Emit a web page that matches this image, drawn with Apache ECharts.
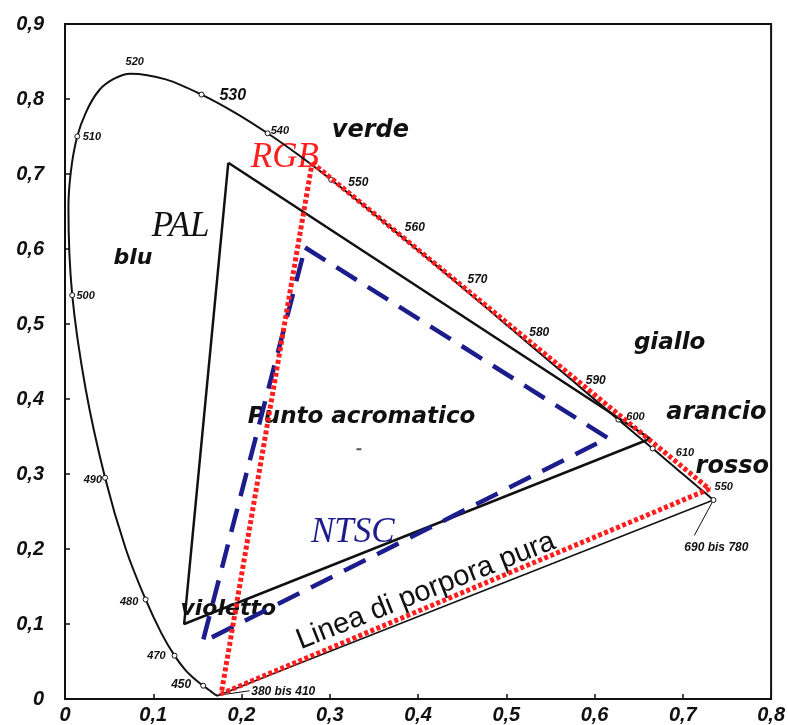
<!DOCTYPE html>
<html>
<head>
<meta charset="utf-8">
<script src="https://cdn.jsdelivr.net/npm/echarts@6/dist/echarts.min.js"></script>
<style>
  html, body { margin: 0; padding: 0; background: #fff; }
  #chart { width: 788px; height: 725px; }
</style>
</head>
<body>
<div id="chart"></div>
<script>
// CIE 1931 spectral locus (nm, x, y)
const locusNm = [380, 385, 390, 395, 400, 405, 410, 415, 420, 425, 430, 435, 440, 445, 450, 455, 460, 465, 470, 475,
  480, 485, 490, 495, 500, 505, 510, 515, 520, 525, 530, 535, 540, 545, 550, 555, 560, 565, 570, 575,
  580, 585, 590, 595, 600, 605, 610, 615, 620, 625, 630, 635, 640, 645, 650, 655, 660, 665, 670, 680, 690, 700];
const locusX = [0.1741, 0.1740, 0.1738, 0.1736, 0.1733, 0.1730, 0.1726, 0.1721, 0.1714, 0.1703, 0.1689, 0.1669, 0.1644, 0.1611, 0.1566, 0.1510, 0.1440, 0.1355, 0.1241, 0.1096,
  0.0913, 0.0687, 0.0454, 0.0235, 0.0082, 0.0039, 0.0139, 0.0389, 0.0743, 0.1142, 0.1547, 0.1929, 0.2296, 0.2658, 0.3016, 0.3373, 0.3731, 0.4087, 0.4441, 0.4788,
  0.5125, 0.5448, 0.5752, 0.6029, 0.6270, 0.6482, 0.6658, 0.6801, 0.6915, 0.7006, 0.7079, 0.7140, 0.7190, 0.7230, 0.7260, 0.7283, 0.7300, 0.7311, 0.7320, 0.7334, 0.7344, 0.7347];
const locusY = [0.0050, 0.0050, 0.0049, 0.0049, 0.0048, 0.0048, 0.0048, 0.0048, 0.0051, 0.0058, 0.0069, 0.0086, 0.0109, 0.0138, 0.0177, 0.0227, 0.0297, 0.0399, 0.0578, 0.0868,
  0.1327, 0.2007, 0.2950, 0.4127, 0.5384, 0.6548, 0.7502, 0.8120, 0.8338, 0.8262, 0.8059, 0.7816, 0.7543, 0.7243, 0.6923, 0.6589, 0.6245, 0.5896, 0.5547, 0.5202,
  0.4866, 0.4544, 0.4242, 0.3965, 0.3725, 0.3514, 0.3340, 0.3197, 0.3083, 0.2993, 0.2920, 0.2859, 0.2809, 0.2770, 0.2740, 0.2717, 0.2700, 0.2689, 0.2680, 0.2666, 0.2656, 0.2653];

// wavelengths marked with a small ring on the locus
const markedNm = [450, 470, 480, 490, 500, 510, 530, 540, 550, 600, 610, 700];

// colour gamut triangles (primary chromaticities)
const palX = [0.185, 0.663, 0.135];
const palY = [0.715, 0.347, 0.100];
const ntscX = [0.272, 0.615, 0.156];
const ntscY = [0.602, 0.348, 0.076];
const rgbX = [0.280, 0.730, 0.177];
const rgbY = [0.715, 0.280, 0.007];

// achromatic point
const whiteX = 0.333;
const whiteY = 0.333;

// axis ticks
const xTicks = [0, 0.1, 0.2, 0.3, 0.4, 0.5, 0.6, 0.7, 0.8];
const yTicks = [0, 0.1, 0.2, 0.3, 0.4, 0.5, 0.6, 0.7, 0.8, 0.9];

// wavelength annotations: text, x, y, alignment
const nmText  = ['520', '530', '510', '540', '550', '560', '570', '580', '590', '600', '610', '550', '690 bis 780', '500', '490', '480', '470', '450', '380 bis 410'];
const nmX     = [0.079, 0.175, 0.020, 0.233, 0.321, 0.385, 0.456, 0.526, 0.590, 0.636, 0.692, 0.736, 0.738, 0.013, 0.042, 0.083, 0.114, 0.143, 0.211];
const nmY     = [0.850, 0.804, 0.750, 0.758, 0.688, 0.628, 0.559, 0.489, 0.425, 0.376, 0.328, 0.283, 0.202, 0.538, 0.292, 0.130, 0.057, 0.019, 0.010];
const nmAlign = ['center', 'left', 'left', 'left', 'left', 'left', 'left', 'left', 'left', 'left', 'left', 'left', 'center', 'left', 'right', 'right', 'right', 'right', 'left'];
const nmSize  = [11, 16, 11, 11, 12, 12, 12, 12, 12, 11, 11, 11, 12, 11, 11, 11, 11, 12, 12];

// colour-region names
const nameText = ['verde', 'blu', 'giallo', 'arancio', 'rosso', 'violetto', 'Punto acromatico'];
const nameX    = [0.346, 0.077, 0.685, 0.738, 0.756, 0.185, 0.336];
const nameY    = [0.757, 0.587, 0.474, 0.381, 0.310, 0.120, 0.376];

// system titles
const sysText  = ['PAL', 'RGB', 'NTSC'];
const sysX     = [0.131, 0.249, 0.326];
const sysY     = [0.629, 0.721, 0.221];
const sysColor = ['#111111', '#ff1e1e', '#1c1c8c'];

// leader lines from the locus ends to their labels
const leaderEnds = [[0.713, 0.218], [0.209, 0.011]];

const locusIdx = nm => locusNm.indexOf(nm);
const closed = (xs, ys) => xs.concat(xs[0]).map((x, i) => [x, ys.concat(ys[0])[i]]);
const locusData = locusNm.map((nm, i) => [locusX[i], locusY[i]]);
const firstPt = locusData[0];
const lastPt = locusData[locusData.length - 1];

const fmt = v => (v === 0 ? '0' : v.toFixed(1).replace('.', ','));

const chart = echarts.init(document.getElementById('chart'), null, { renderer: 'canvas' });

const tickLabel = {
  color: '#111', fontFamily: 'Liberation Sans', fontStyle: 'italic', fontWeight: 'bold', fontSize: 20
};

const textSeries = (name, data, z) => ({
  name, type: 'scatter', symbolSize: 1, itemStyle: { color: 'rgba(0,0,0,0)', opacity: 1 }, silent: true, z,
  data, label: { show: true, position: 'inside' }
});

const option = {
  animation: false,
  backgroundColor: '#ffffff',
  grid: { left: 65, right: 16, top: 24, bottom: 22, show: true, borderColor: '#111', borderWidth: 2 },
  xAxis: {
    type: 'value', min: 0, max: 0.8, interval: 0.1,
    axisLine: { show: true, lineStyle: { color: '#111', width: 2 } },
    axisTick: { show: true, inside: true, length: 5, lineStyle: { color: '#111', width: 1.5 } },
    splitLine: { show: false },
    axisLabel: Object.assign({ margin: 6, formatter: v => fmt(xTicks.find(t => Math.abs(t - v) < 1e-9) ?? v) }, tickLabel)
  },
  yAxis: {
    type: 'value', min: 0, max: 0.9, interval: 0.1,
    axisLine: { show: true, lineStyle: { color: '#111', width: 2 } },
    axisTick: { show: true, inside: true, length: 5, lineStyle: { color: '#111', width: 1.5 } },
    splitLine: { show: false },
    axisLabel: Object.assign({ margin: 21, formatter: v => fmt(yTicks.find(t => Math.abs(t - v) < 1e-9) ?? v) }, tickLabel)
  },
  series: [
    // colour names and titles sit underneath the gamut lines
    textSeries('names', nameText.map((t, i) => ({
      value: [nameX[i], nameY[i]],
      label: {
        formatter: t, align: 'center', verticalAlign: 'middle',
        fontFamily: 'DejaVu Sans', fontStyle: 'italic', fontWeight: 'bold',
        fontSize: [24, 22, 23, 24, 24, 22, 23][i], color: '#111'
      }
    })), 1),
    textSeries('purpleName', [{
      value: [0.409, 0.144],
      label: {
        formatter: 'Linea di porpora pura', rotate: 21.6, align: 'center', verticalAlign: 'middle',
        fontFamily: 'Liberation Sans', fontSize: 29, color: '#111'
      }
    }], 1),
    textSeries('systems', sysText.map((t, i) => ({
      value: [sysX[i], sysY[i]],
      label: {
        formatter: t, align: 'center', verticalAlign: 'middle',
        fontFamily: 'Liberation Serif', fontStyle: 'italic', fontSize: 35, color: sysColor[i]
      }
    })), 1),
    textSeries('wavelengths', nmText.map((t, i) => ({
      value: [nmX[i], nmY[i]],
      label: {
        formatter: t, align: nmAlign[i], verticalAlign: 'middle',
        fontFamily: 'Liberation Sans', fontStyle: 'italic', fontWeight: 'bold',
        fontSize: nmSize[i], color: '#111'
      }
    })), 1),
    {
      name: 'locus', type: 'line', data: locusData, smooth: 0.3, showSymbol: false, silent: true, z: 2,
      lineStyle: { color: '#111', width: 2 }
    },
    {
      name: 'purpleLine', type: 'line', data: [firstPt, lastPt], showSymbol: false, silent: true, z: 2,
      lineStyle: { color: '#111', width: 1.4 }
    },
    ...leaderEnds.map((p, i) => ({
      name: 'leader' + i, type: 'line', data: [i === 0 ? lastPt : firstPt, p], showSymbol: false, silent: true, z: 2,
      lineStyle: { color: '#111', width: 1 }
    })),
    {
      name: 'markers', type: 'scatter', silent: true, z: 3, symbol: 'circle', symbolSize: 5,
      itemStyle: { color: '#fff', borderColor: '#111', borderWidth: 1, opacity: 1 },
      data: markedNm.map(nm => locusData[locusIdx(nm)])
    },
    {
      name: 'white', type: 'scatter', silent: true, z: 3, symbol: 'rect', symbolSize: [5, 2],
      itemStyle: { color: '#555', opacity: 1 }, data: [[whiteX, whiteY]]
    },
    {
      name: 'PAL', type: 'line', data: closed(palX, palY), showSymbol: false, silent: true, z: 4,
      lineStyle: { color: '#111', width: 2.5 }
    },
    {
      name: 'NTSC', type: 'line', data: closed(ntscX, ntscY), showSymbol: false, silent: true, z: 5,
      lineStyle: { color: '#1c1c8c', width: 4.5, type: [24, 13] }
    },
    {
      name: 'RGB', type: 'line', data: closed(rgbX, rgbY), showSymbol: false, silent: true, z: 6,
      lineStyle: { color: '#ff1e1e', width: 5, type: [4, 2.5] }
    }
  ]
};

chart.setOption(option);
</script>
</body>
</html>
